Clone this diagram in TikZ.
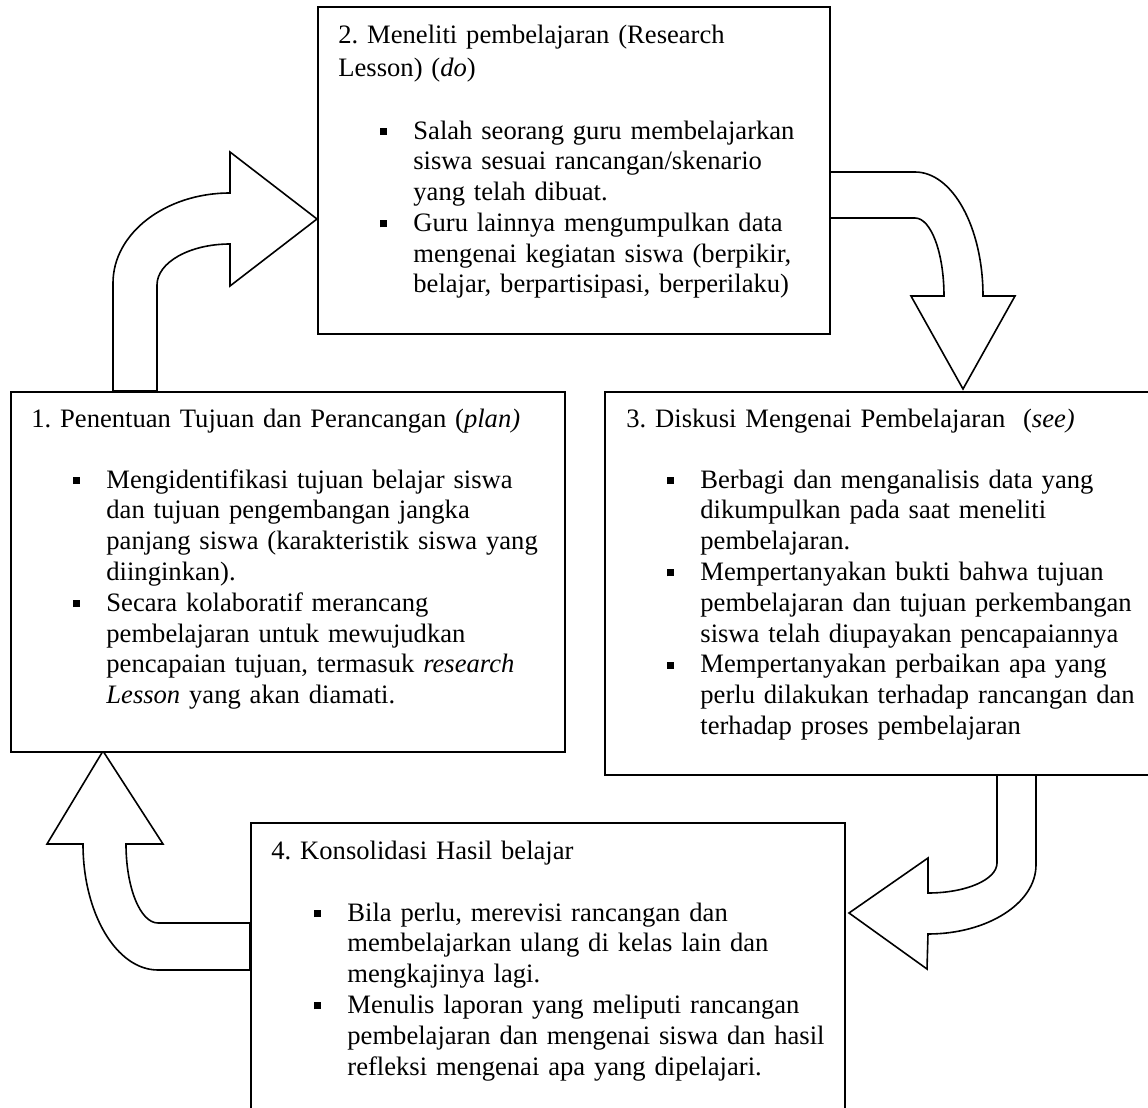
\documentclass[tikz,border=0pt]{standalone}
\usepackage{fontspec}
\setmainfont{Liberation Serif}
\newcommand\sqbul{\leavevmode\llap{\rule[2pt]{3.6pt}{3.6pt}\hspace{13pt}}}
\frenchspacing
\begin{document}
\begin{tikzpicture}[x=0.5pt,y=-0.5pt,
  box/.style={draw, line width=1pt, fill=white, inner sep=0pt, anchor=north west},
  barrow/.style={draw, line width=0.8pt, fill=white, line join=miter},
  ttl/.style={anchor=base west, inner sep=0pt, text width=330pt, align=left, font=\fontsize{13.3}{17}\selectfont\frenchspacing},
  lst/.style={anchor=base west, inner sep=0pt, text width=330pt, align=left, font=\fontsize{13.3}{15.4}\selectfont\frenchspacing}]
\path[use as bounding box] (0,0) rectangle (1148,1108);
\clip (0,0) rectangle (1148,1108);
% block arrows
\draw[barrow] (113,391) -- (113,283) .. controls (113,233.3) and (165.4,193) .. (230,193)
  -- (230,152) -- (317,219) -- (230,286) -- (230,244)
  .. controls (189.7,244) and (157,262.4) .. (157,285) -- (157,391) -- cycle;
\draw[barrow] (829,172) -- (915,172) .. controls (952.6,172) and (983,227.5) .. (983,296)
  -- (1015,296) -- (963,389) -- (911,296) -- (944,296)
  .. controls (944,252.9) and (931,218) .. (915,218) -- (829,218) -- cycle;
\draw[barrow] (997,774) -- (997,863) .. controls (997,879.6) and (966.1,893) .. (928,893)
  -- (928,858) -- (849,913) -- (927,969) -- (928,934)
  .. controls (987.6,934) and (1036,903.1) .. (1036,865) -- (1036,774) -- cycle;
\draw[barrow] (250,923) -- (158,923) .. controls (140.3,923) and (126,887.6) .. (126,844)
  -- (163,844) -- (103,751) -- (47,844) -- (83,844)
  .. controls (83,913.6) and (116.6,970) .. (158,970) -- (250,970) -- cycle;
% boxes
\node[box, minimum width=277pt, minimum height=180pt] (b1) at (10,391) {};
\node[box, minimum width=256pt, minimum height=163.5pt] (b2) at (317,6) {};
\node[box, minimum width=300pt, minimum height=191.5pt] (b3) at (604,391) {};
\node[box, minimum width=297pt, minimum height=160pt] (b4) at (250,822) {};
% texts
\node[ttl] (t1) at (31,427) {1. Penentuan Tujuan dan Perancangan (\textit{plan)}};
\node[lst] (l1) at (106,488) {\sqbul Mengidentifikasi tujuan belajar siswa\\
dan tujuan pengembangan jangka\\
panjang siswa (karakteristik siswa yang\\
diinginkan).\\
\sqbul Secara kolaboratif merancang\\
pembelajaran untuk mewujudkan\\
pencapaian tujuan, termasuk \textit{research}\\
\textit{Lesson} yang akan diamati.};
\node[ttl] (t2) at (338,43) {2. Meneliti pembelajaran (Research\\
Lesson) (\textit{do})};
\node[lst] (l2) at (413,139) {\sqbul Salah seorang guru membelajarkan\\
siswa sesuai rancangan/skenario\\
yang telah dibuat.\\
\sqbul Guru lainnya mengumpulkan data\\
mengenai kegiatan siswa (berpikir,\\
belajar, berpartisipasi, berperilaku)};
\node[ttl] (t3) at (626,427) {3. Diskusi Mengenai Pembelajaran\ \ (\textit{see)}};
\node[lst] (l3) at (700,488) {\sqbul Berbagi dan menganalisis data yang\\
dikumpulkan pada saat meneliti\\
pembelajaran.\\
\sqbul Mempertanyakan bukti bahwa tujuan\\
pembelajaran dan tujuan perkembangan\\
siswa telah diupayakan pencapaiannya\\
\sqbul Mempertanyakan perbaikan apa yang\\
perlu dilakukan terhadap rancangan dan\\
terhadap proses pembelajaran};
\node[ttl] (t4) at (271,859) {4. Konsolidasi Hasil belajar};
\node[lst] (l4) at (347,921) {\sqbul Bila perlu, merevisi rancangan dan\\
membelajarkan ulang di kelas lain dan\\
mengkajinya lagi.\\
\sqbul Menulis laporan yang meliputi rancangan\\
pembelajaran dan mengenai siswa dan hasil\\
refleksi mengenai apa yang dipelajari.};
\end{tikzpicture}
\end{document}
